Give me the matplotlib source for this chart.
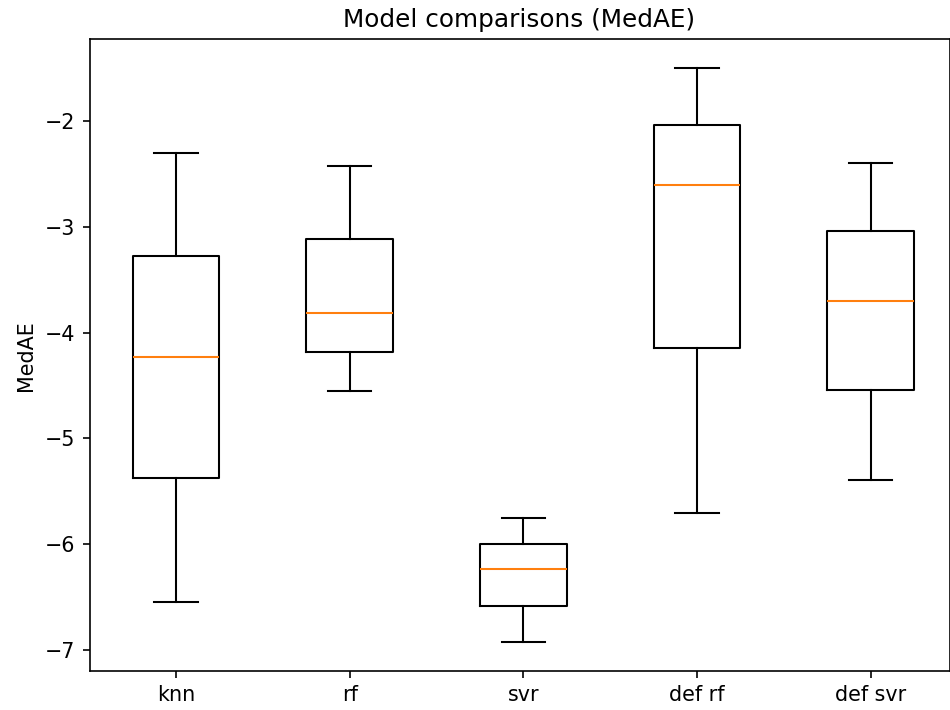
import matplotlib
matplotlib.use("Agg")
import matplotlib.pyplot as plt

labels = ["knn", "rf", "svr", "def rf", "def svr"]
whislo = [-6.544, -4.557, -6.929, -5.702, -5.396]
q1 = [-5.378, -4.183, -6.588, -4.148, -4.545]
med = [-4.230, -3.820, -6.235, -2.603, -3.703]
q3 = [-3.274, -3.113, -5.999, -2.041, -3.041]
whishi = [-2.306, -2.423, -5.750, -1.499, -2.394]

stats = []
for i, lab in enumerate(labels):
    stats.append(dict(label=lab, whislo=whislo[i], q1=q1[i], med=med[i],
                      q3=q3[i], whishi=whishi[i], fliers=[]))

dpi = 950 / 6.4
fig = plt.figure(figsize=(6.4, 710 / dpi), dpi=dpi)
ax = fig.add_axes([89.5 / 950, 1 - 671 / 710, 860 / 950, (671 - 39.3) / 710])
ax.bxp(stats, showfliers=False)
ax.set_xlim(0.502, 5.454)
ax.set_title("Model comparisons (MedAE)")
ax.set_ylabel("MedAE")
fig.savefig("out.png", dpi=dpi)
